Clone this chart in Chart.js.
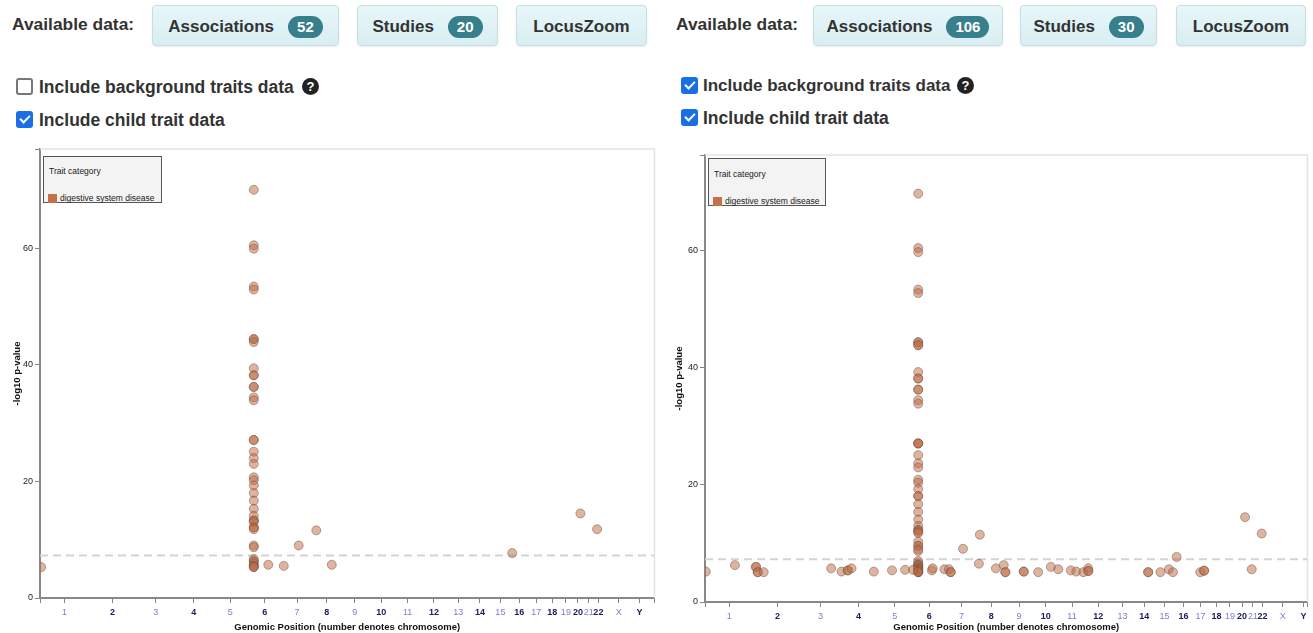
<!DOCTYPE html>
<html>
<head>
<meta charset="utf-8">
<script src="https://cdn.jsdelivr.net/npm/chart.js@4.4.1/dist/chart.umd.min.js"></script>
<style>
body{margin:0;width:1313px;height:633px;position:relative;overflow:hidden;background:#fff;font-family:"Liberation Sans",Arial,sans-serif;color:#333}
.abs{position:absolute}
.avail{position:absolute;top:14px;font-size:17.4px;font-weight:bold;line-height:20px;color:#333}
.btn{position:absolute;top:5px;height:41px;box-sizing:border-box;border:1px solid #c6dde3;border-radius:4px;background:linear-gradient(#e7f6f9,#d8eef2);box-shadow:0 1px 2px rgba(0,0,0,.08);display:flex;align-items:center;justify-content:center;font-size:17px;font-weight:bold;color:#333;padding-top:2px}
.badge{margin-left:14px;background:#367f8b;color:#fff;border-radius:11px;height:22px;line-height:22px;padding:0 9px;font-size:15px}
.chk{position:absolute;width:17px;height:17px;box-sizing:border-box;border-radius:3px}
.off{border:2px solid #777;background:#fff}
.on{background:#1b6fe6}
.on::after{content:'';position:absolute;left:5.5px;top:2px;width:4px;height:8px;border:solid #fff;border-width:0 2.5px 2.5px 0;transform:rotate(45deg)}
.opt{position:absolute;font-size:17.5px;font-weight:bold;line-height:20px;color:#333}
.q{position:absolute;width:17px;height:17px;border-radius:50%;background:#222;color:#fff;font-size:13px;font-weight:bold;text-align:center;line-height:17px}
.legend{position:absolute;background:#f3f3f3;border:1px solid #555;box-sizing:border-box;font-size:8.5px;color:#222}
.legend .t{position:absolute;left:5px;line-height:10px}
.legend .sq{position:absolute;left:4px;width:9px;height:9px;background:#c4704a}
.legend .l{position:absolute;left:16px;line-height:10px}
</style>
</head>
<body>
<!-- left panel header -->
<div class="avail" style="left:12px">Available data:</div>
<div class="btn" style="left:152px;width:187px">Associations<span class="badge">52</span></div>
<div class="btn" style="left:357px;width:141px">Studies<span class="badge">20</span></div>
<div class="btn" style="left:516px;width:131px">LocusZoom</div>
<div class="chk off" style="left:16px;top:78px"></div>
<div class="opt" style="left:39px;top:77px">Include background traits data</div>
<div class="q" style="left:302px;top:78px">?</div>
<div class="chk on" style="left:16px;top:111px"></div>
<div class="opt" style="left:39px;top:110px">Include child trait data</div>

<!-- right panel header -->
<div class="avail" style="left:676px">Available data:</div>
<div class="btn" style="left:813px;width:190px">Associations<span class="badge">106</span></div>
<div class="btn" style="left:1020px;width:137px">Studies<span class="badge">30</span></div>
<div class="btn" style="left:1176px;width:130px">LocusZoom</div>
<div class="chk on" style="left:681px;top:77px"></div>
<div class="opt" style="left:703px;top:76px;font-size:17px">Include background traits data</div>
<div class="q" style="left:957px;top:77px">?</div>
<div class="chk on" style="left:681px;top:109px"></div>
<div class="opt" style="left:703px;top:108px">Include child trait data</div>

<div class="abs" style="left:0;top:140px;width:660px;height:493px"><canvas id="chartLeft"></canvas></div>
<div class="abs" style="left:660px;top:140px;width:653px;height:493px"><canvas id="chartRight"></canvas></div>

<div class="legend" style="left:43px;top:156px;width:119px;height:47px">
  <div class="t" style="top:9px">Trait category</div>
  <div class="sq" style="top:37px"></div>
  <div class="l" style="top:36px">digestive system disease</div>
</div>
<div class="legend" style="left:708px;top:158px;width:118px;height:48px">
  <div class="t" style="top:10px">Trait category</div>
  <div class="sq" style="top:38px"></div>
  <div class="l" style="top:37px">digestive system disease</div>
</div>

<script>
// chromosome layout (Mb, GRCh38)
const chromosomes = ['1','2','3','4','5','6','7','8','9','10','11','12','13','14','15','16','17','18','19','20','21','22','X','Y']
const chromLengthsMb = [248.96, 242.19, 198.30, 190.21, 181.54, 170.81, 159.35, 145.14, 138.39, 133.80, 135.09, 133.28, 114.36, 107.04, 101.99, 90.34, 83.26, 80.37, 58.62, 64.44, 46.71, 50.82, 156.04, 57.23]
const yTicks = [0, 20, 40, 60]
const thresholdLogP = 7.3

// left: without background traits (52 associations)
const leftPosMb = [
  1091,1091,1091,1091,1091,1091,1091,1091,1091,1091,1091,1091,1091,1091,1091,1091,1091,1091,1091,1091,1091,
  1091,1091,1091,1091,1091,1091,1091,1091,1091,1091,1091,1091,1091,1091,1091,1091,1091,1091,1091,1091,1091,1091,
  6, 1165, 1244, 1320, 1410, 1489, 2410, 2758, 2843
]
const leftLogP = [
  70.0, 60.5, 59.9, 53.4, 52.9, 44.4, 44.4, 43.9, 39.4, 38.2, 38.2, 36.2, 36.2, 34.4, 33.9, 27.1, 27.1, 25.1, 24.0, 23.0, 20.7,
  20.2, 19.3, 18.0, 16.7, 15.3, 14.1, 13.3, 13.3, 13.0, 12.1, 12.1, 11.8, 9.0, 8.7, 6.7, 6.3, 6.3, 5.9, 5.5, 5.5, 5.3, 5.3,
  5.3, 5.7, 5.5, 9.0, 11.6, 5.7, 7.7, 14.5, 11.8
]

// right: with background traits (106 associations)
const rightPosMb = [
  1090,1090,1090,1090,1090,1090,1090,1090,1090,1090,1090,1090,1090,1090,1090,1090,1090,1090,
  1090,1090,1090,1090,1090,1090,1090,1090,1090,1090,1090,1090,1090,1090,1090,1090,1090,1090,
  1090,1090,1090,1090,1090,1090,1090,1090,1090,1090,1090,1090,1090,1090,1090,1090,1090,1090,
  4, 153, 259, 262, 269, 270, 300, 645, 698, 729, 731, 749, 863, 956, 1023, 1064, 1160, 1164,
  1224, 1247, 1255, 1257, 1319, 1400, 1405, 1487, 1527, 1535, 1536, 1629, 1630, 1703, 1768, 1806,
  1870, 1898, 1934, 1959, 1959, 1960, 2265, 2266, 2328, 2371, 2392, 2411, 2532, 2551, 2552, 2761,
  2846, 2795
]
const rightLogP = [
  69.8, 60.5, 59.8, 53.4, 52.8, 44.4, 44.4, 43.9, 43.9, 39.3, 38.2, 38.2, 36.3, 36.3, 34.5, 33.9, 27.1, 27.1,
  27.1, 25.1, 23.7, 23.0, 20.9, 20.4, 19.3, 18.1, 18.1, 16.7, 15.4, 14.1, 13.0, 12.3, 12.3, 12.0, 11.8, 10.3,
  9.6, 9.6, 9.0, 8.7, 7.0, 6.6, 6.3, 6.3, 6.3, 5.9, 5.9, 5.7, 5.5, 5.5, 5.3, 5.1, 5.1, 5.1,
  5.2, 6.3, 6.0, 6.0, 5.1, 5.1, 5.1, 5.75, 5.2, 5.4, 5.4, 5.75, 5.2, 5.4, 5.5, 5.5, 5.4, 5.75,
  5.6, 5.6, 5.1, 5.1, 9.1, 6.55, 11.5, 5.75, 6.3, 5.1, 5.1, 5.2, 5.2, 5.1, 6.0, 5.6,
  5.4, 5.2, 5.1, 5.75, 5.3, 5.3, 5.1, 5.1, 5.1, 5.6, 5.1, 7.7, 5.1, 5.35, 5.35, 14.5,
  11.7, 5.6
]

const font = '"Liberation Sans", Arial, sans-serif'

const chromStart = []
let acc = 0
chromLengthsMb.forEach(len => { chromStart.push(acc); acc += len })
const chromMid = chromLengthsMb.map((len, i) => chromStart[i] + len / 2)

// light grey frame on top and right of the plot
const frame = {
  id: 'frame',
  beforeDatasetsDraw(chart) {
    const a = chart.chartArea, ctx = chart.ctx
    ctx.save()
    ctx.strokeStyle = '#e3e3e3'
    ctx.lineWidth = 1.5
    ctx.beginPath()
    ctx.moveTo(a.left, a.top)
    ctx.lineTo(a.right, a.top)
    ctx.lineTo(a.right, a.bottom)
    ctx.stroke()
    ctx.restore()
  }
}

function manhattan(id, pos, logp, lay) {
  const xTickValues = [0, ...chromMid, lay.xMax]
  const xTickText = ['', ...chromosomes, '']
  const yTickValues = [...yTicks, lay.yMax]
  return new Chart(document.getElementById(id), {
    type: 'scatter',
    data: {
      datasets: [{
        data: pos.map((p, i) => ({x: p, y: logp[i]})),
        backgroundColor: 'rgba(192,106,64,0.5)',
        borderColor: 'rgba(110,88,78,0.5)',
        borderWidth: 1,
        pointRadius: 4.5,
        order: 0
      }, {
        type: 'line',
        data: [{x: 0, y: thresholdLogP}, {x: lay.xMax, y: thresholdLogP}],
        borderColor: '#d4d4d4',
        borderWidth: 2,
        borderDash: [8, 5],
        pointRadius: 0,
        order: 1
      }]
    },
    options: {
      responsive: true,
      maintainAspectRatio: false,
      animation: false,
      layout: {padding: {top: lay.padTop, right: lay.padRight, left: 0, bottom: 0}},
      plugins: {legend: {display: false}, tooltip: {enabled: false}},
      scales: {
        x: {
          type: 'linear', min: 0, max: lay.xMax,
          afterBuildTicks: s => { s.ticks = xTickValues.map(v => ({value: v})) },
          afterFit: s => { s.height = lay.xHeight },
          ticks: {
            autoSkip: false, maxRotation: 0, minRotation: 0, padding: 4,
            callback: (v, i) => xTickText[i],
            color: c => c.index % 2 === 0 ? '#1b1b5e' : '#7c7cd6',
            font: c => ({family: font, size: 9, weight: c.index % 2 === 0 ? 'bold' : 'normal'})
          },
          grid: {drawOnChartArea: false, tickLength: 5, tickColor: '#888', tickWidth: 1},
          border: {color: '#888', width: 2},
          title: {display: true, text: 'Genomic Position (number denotes chromosome)', color: '#111',
                  font: {family: font, size: 9.5, weight: 'bold'}, padding: {top: 0, bottom: 0}}
        },
        y: {
          min: 0, max: lay.yMax,
          afterBuildTicks: s => { s.ticks = yTickValues.map(v => ({value: v})) },
          afterFit: s => { s.width = lay.yWidth },
          ticks: {
            padding: 2, color: '#222', font: {family: font, size: 9},
            callback: (v, i) => i < yTicks.length ? String(v) : ''
          },
          grid: {drawOnChartArea: false, tickLength: 5, tickColor: '#888', tickWidth: 1},
          border: {color: '#888', width: 2},
          title: {display: true, text: '-log10 p-value', color: '#111',
                  font: {family: font, size: 9.5, weight: 'bold'}, padding: {top: lay.yTitlePad, bottom: 0}}
        }
      }
    },
    plugins: [frame]
  })
}

manhattan('chartLeft', leftPosMb, leftLogP, {xMax: 3136, yMax: 77, padTop: 9, padRight: 5, xHeight: 35, yWidth: 40, yTitlePad: 12})
manhattan('chartRight', rightPosMb, rightLogP, {xMax: 3080, yMax: 76.4, padTop: 15, padRight: 3, xHeight: 31, yWidth: 45, yTitlePad: 14})
</script>
</body>
</html>
